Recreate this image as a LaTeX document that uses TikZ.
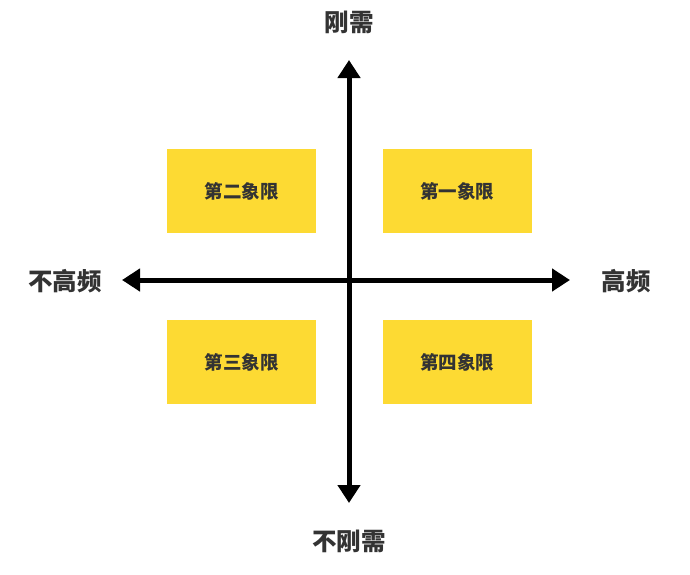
\documentclass[tikz,border=0pt]{standalone}
\usepackage{fontspec}
\setmainfont{Noto Sans CJK SC}
\usetikzlibrary{arrows.meta}
\definecolor{quadyellow}{HTML}{FDDA33}
\definecolor{labelgray}{HTML}{333333}
\begin{document}
\begin{tikzpicture}[x=1pt,y=-1pt]
  \tikzstyle{quadrant}=[fill=quadyellow, minimum width=149pt, minimum height=84pt,
    inner sep=0pt, text=labelgray, font=\fontsize{18.5}{18.5}\selectfont\bfseries]
  \tikzstyle{axislabel}=[text=labelgray, font=\fontsize{24.5}{24.5}\selectfont\bfseries]
  \tikzstyle{axis}=[line width=5pt, -{Triangle[width=22pt,length=18pt]}]
  \useasboundingbox (0,0) rectangle (690,574);
  \coordinate (center) at (349,280);
  \coordinate (top) at (349,60);
  \coordinate (bottom) at (349,503);
  \coordinate (left) at (122,280);
  \coordinate (right) at (570,280);
  \draw[axis] (center) -- (top);
  \draw[axis] (center) -- (bottom);
  \draw[axis] (center) -- (left);
  \draw[axis] (center) -- (right);
  \node[quadrant] (q1) at (457,191) {第一象限};
  \node[quadrant] (q2) at (241.5,191) {第二象限};
  \node[quadrant] (q3) at (241.5,362) {第三象限};
  \node[quadrant] (q4) at (457,362) {第四象限};
  \node[axislabel] (rigid) at (349,22) {刚需};
  \node[axislabel] (nonrigid) at (349,541) {不刚需};
  \node[axislabel] (lowfreq) at (65,281) {不高频};
  \node[axislabel] (highfreq) at (626,281) {高频};
\end{tikzpicture}
\end{document}
